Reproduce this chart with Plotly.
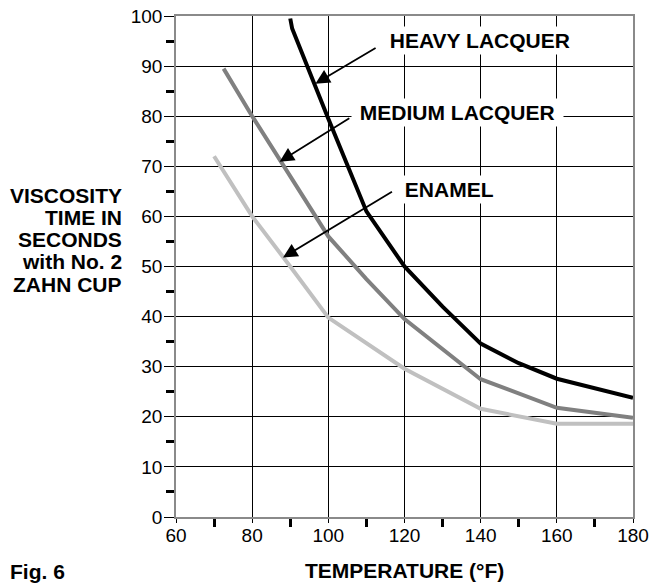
import plotly.graph_objects as go

# ---- data ----
heavy_temp = [90, 90.5, 100, 110, 120, 130, 140, 150, 160, 170, 180]
heavy_visc = [99.5, 97.5, 79.5, 61, 50, 42, 34.6, 30.7, 27.6, 25.6, 23.8]

medium_temp = [72.5, 80, 100, 110, 120, 140, 160, 180]
medium_visc = [89.5, 80, 56, 47.5, 39.5, 27.5, 21.8, 19.8]

enamel_temp = [70, 80, 90, 100, 120, 140, 160, 180]
enamel_visc = [72, 60, 50, 39.8, 29.6, 21.6, 18.6, 18.6]

series_names = ["ENAMEL", "MEDIUM LACQUER", "HEAVY LACQUER"]
y_title_lines = ["VISCOSITY", "TIME IN", "SECONDS", "with No. 2", "ZAHN CUP"]
x_title = "TEMPERATURE (°F)"
fig_label = "Fig. 6"

# ---- styling ----
FONT = "Liberation Sans, Arial, Helvetica, sans-serif"
colors = {"ENAMEL": "#c0c0c0", "MEDIUM LACQUER": "#808080", "HEAVY LACQUER": "#000000"}
data = {
    "ENAMEL": (enamel_temp, enamel_visc),
    "MEDIUM LACQUER": (medium_temp, medium_visc),
    "HEAVY LACQUER": (heavy_temp, heavy_visc),
}

fig = go.Figure()
for name in series_names:
    xs, ys = data[name]
    fig.add_trace(go.Scatter(x=xs, y=ys, mode="lines", name=name,
                             line=dict(color=colors[name], width=4),
                             showlegend=False, hoverinfo="skip"))

# label callouts: text centre, arrow tail, arrow head (data coords)
callouts = [
    ("HEAVY LACQUER", (139.8, 95.1), (112.8, 93.8), (96.6, 86.5)),
    ("MEDIUM LACQUER", (134.0, 80.8), (105.9, 79.8), (87.2, 70.9)),
    ("ENAMEL", (131.6, 65.3), (117.1, 65.1), (88.1, 51.8)),
]
nb = "\u00a0"
for text, (tx, ty), (ax, ay), (hx, hy) in callouts:
    fig.add_annotation(x=hx, y=hy, ax=ax, ay=ay, xref="x", yref="y",
                       axref="x", ayref="y", text="", showarrow=True,
                       arrowhead=2, arrowsize=1.6, arrowwidth=1.8,
                       arrowcolor="black", standoff=0, startstandoff=0)
    fig.add_annotation(x=tx, y=ty, xref="x", yref="y", text=nb + text + nb,
                       showarrow=False, bgcolor="white", borderpad=2,
                       xanchor="center", yanchor="middle",
                       font=dict(family=FONT, size=21, color="black", weight="bold"))

L, R, T, B = 176, 28, 16, 67
W, H = 661, 584
pw, ph = W - L - R, H - T - B
def px_to_paper_x(px):
    return (px - L) / pw
def py_to_paper_y(py):
    return (H - B - py) / ph

line_centres = [195, 217.3, 239.6, 261.9, 284.2]
for txt, cy in zip(y_title_lines, line_centres):
    fig.add_annotation(x=px_to_paper_x(124), y=py_to_paper_y(cy), xref="paper", yref="paper",
                       text=txt, showarrow=False, xanchor="right", yanchor="middle",
                       font=dict(family=FONT, size=21, color="black", weight="bold"))

fig.add_annotation(x=px_to_paper_x(404), y=py_to_paper_y(570), xref="paper", yref="paper",
                   text=x_title, showarrow=False, xanchor="center", yanchor="middle",
                   font=dict(family=FONT, size=21, color="black", weight="bold"))
fig.add_annotation(x=px_to_paper_x(8), y=py_to_paper_y(571), xref="paper", yref="paper",
                   text=fig_label, showarrow=False, xanchor="left", yanchor="middle",
                   font=dict(family=FONT, size=21, color="black", weight="bold"))

frame = dict(showline=True, linecolor="#8a8a8a", linewidth=1.5, mirror=True,
             showgrid=True, gridcolor="black", gridwidth=1, zeroline=False,
             automargin=False,
             tickfont=dict(family=FONT, size=19, color="black"),
             tickcolor="black", tickwidth=1, ticks="outside")

fig.update_xaxes(range=[60, 180], tick0=60, dtick=20, ticklen=4, ticklabelstandoff=-4,
                 minor=dict(dtick=10, tick0=60, ticks="outside", ticklen=8, tickwidth=3,
                            tickcolor="black", showgrid=False),
                 **frame)
fig.update_yaxes(range=[0, 100], tick0=0, dtick=10, ticklen=10, ticklabelstandoff=-2,
                 minor=dict(dtick=5, tick0=0, ticks="outside", ticklen=8, tickwidth=3,
                            tickcolor="black", showgrid=False),
                 **frame)

fig.update_layout(width=W, height=H, margin=dict(l=L, r=R, t=T, b=B, autoexpand=False),
                  plot_bgcolor="white", paper_bgcolor="white",
                  font=dict(family=FONT, color="black"))

fig.write_html("out.html", config={"displayModeBar": False},
               post_script="document.body.style.margin='0';document.body.style.overflow='hidden';")
